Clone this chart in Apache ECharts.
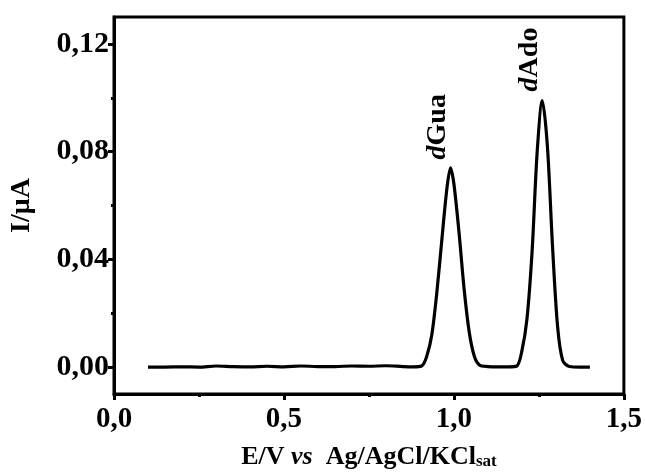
<!DOCTYPE html>
<html>
<head>
<meta charset="utf-8">
<title>DPV dGua dAdo</title>
<script src="https://cdn.jsdelivr.net/npm/echarts@6/dist/echarts.min.js"></script>
<style>
body { margin: 0; padding: 0; background: #fff; }
#main { width: 645px; height: 475px; }
</style>
</head>
<body>
<div id="main"></div>
<script>
// potential (V) and current (uA)
var potential = [0.10, 0.15, 0.20, 0.25, 0.30, 0.35, 0.40, 0.45, 0.50, 0.55, 0.60, 0.65, 0.70, 0.75, 0.80, 0.85, 0.88,
    0.905, 0.92, 0.935, 0.95, 0.965, 0.98, 0.99, 1.00, 1.015, 1.03, 1.045, 1.06, 1.075,
    1.10, 1.13, 1.16, 1.185, 1.20, 1.215, 1.23, 1.245, 1.26, 1.275, 1.29, 1.305, 1.32,
    1.34, 1.37, 1.40];
var current = [0.0000, 0.0000, 0.0001, 0.0000, 0.0004, 0.0002, 0.0001, 0.0003, 0.0001, 0.0004, 0.0002, 0.0002, 0.0004, 0.0003, 0.0005, 0.0002, 0.0001,
    0.0004, 0.0040, 0.0120, 0.0280, 0.0480, 0.0670, 0.0740, 0.0680, 0.0500, 0.0290, 0.0130, 0.0040, 0.0008,
    0.0002, 0.0001, 0.0001, 0.0004, 0.0060, 0.0180, 0.0430, 0.0800, 0.0990, 0.0820, 0.0450, 0.0150, 0.0025,
    0.0002, 0.0000, 0.0000];
var peakNames = ['Gua', 'Ado'];
var peakPos = [[0.99, 0.074], [1.26, 0.099]];
var yTicks = [0, 0.04, 0.08, 0.12];
var yMinorTicks = [0.02, 0.06, 0.10];

var serif = '"Liberation Serif", "Times New Roman", serif';
var data = [];
for (var i = 0; i < potential.length; i++) {
    data.push([potential[i], current[i]]);
}

var myChart = echarts.init(document.getElementById('main'));
var option = {
    animation: false,
    grid: {
        left: 113, right: 19, top: 17, bottom: 78,
        show: true, borderColor: '#000', borderWidth: 3
    },
    xAxis: {
        type: 'value',
        min: 0, max: 1.5, interval: 0.5,
        name: '{b|E/V }{i|vs}{b|  Ag/AgCl/KCl}{s|sat}',
        nameLocation: 'middle',
        nameGap: 50,
        nameTextStyle: {
            rich: {
                b: { fontFamily: serif, fontWeight: 'bold', fontSize: 26, color: '#000' },
                i: { fontFamily: serif, fontWeight: 'bold', fontStyle: 'italic', fontSize: 26, color: '#000' },
                s: { fontFamily: serif, fontWeight: 'bold', fontSize: 17, color: '#000', verticalAlign: 'bottom', padding: [8, 0, 0, 0] }
            }
        },
        axisLine: { onZero: false, lineStyle: { color: '#000', width: 3 } },
        axisTick: { inside: false, length: 6, lineStyle: { color: '#000', width: 3 } },
        minorTick: { show: true, splitNumber: 2, length: 3, lineStyle: { color: '#000', width: 3 } },
        splitLine: { show: false },
        axisLabel: {
            fontFamily: serif, fontWeight: 'bold', fontSize: 29, color: '#000', margin: 11,
            formatter: function (v) { return v.toFixed(1).replace('.', ','); }
        }
    },
    yAxis: [{
        type: 'value',
        min: -0.01, max: 0.13,
        name: 'I/μA',
        nameLocation: 'middle',
        nameGap: 78,
        nameTextStyle: { fontFamily: serif, fontWeight: 'bold', fontSize: 28, color: '#000' },
        axisLine: { onZero: false, lineStyle: { color: '#000', width: 3 } },
        axisTick: { inside: false, length: 6, customValues: yTicks, lineStyle: { color: '#000', width: 3 } },
        splitLine: { show: false },
        axisLabel: {
            customValues: yTicks,
            fontFamily: serif, fontWeight: 'bold', fontSize: 30, color: '#000', margin: 5,
            formatter: function (v) { return v.toFixed(2).replace('.', ','); }
        }
    }, {
        type: 'value',
        position: 'left',
        min: -0.01, max: 0.13,
        axisLine: { show: false },
        axisTick: { inside: false, length: 3, customValues: yMinorTicks, lineStyle: { color: '#000', width: 3 } },
        axisLabel: { show: false },
        splitLine: { show: false }
    }],
    series: [{
        type: 'line',
        data: data,
        smooth: 0.3,
        showSymbol: false,
        lineStyle: { color: '#000', width: 3.2 }
    }]
};
myChart.setOption(option);

// peak labels, placed from the peak coordinates
var labels = [];
for (var k = 0; k < peakPos.length; k++) {
    var p = myChart.convertToPixel({ gridIndex: 0 }, peakPos[k]);
    labels.push({
        type: 'text',
        x: p[0] - 13,
        y: p[1] - 41,
        rotation: Math.PI / 2,
        style: {
            text: '{i|d}{b|' + peakNames[k] + '}',
            align: 'center',
            verticalAlign: 'middle',
            rich: {
                i: { fontFamily: serif, fontWeight: 'bold', fontStyle: 'italic', fontSize: 28, fill: '#000' },
                b: { fontFamily: serif, fontWeight: 'bold', fontSize: 28, fill: '#000' }
            }
        }
    });
}
myChart.setOption({ graphic: labels });
</script>
</body>
</html>
